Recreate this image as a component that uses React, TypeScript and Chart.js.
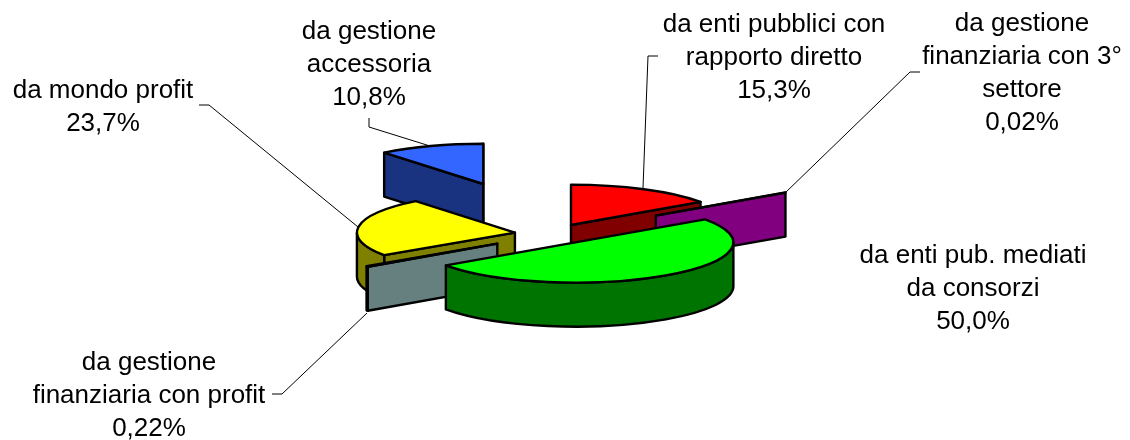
import React, { useEffect, useRef } from "react";
import { Chart, registerables } from "chart.js";

Chart.register(...registerables);

const categories = [
  "da enti pubblici con rapporto diretto",
  "da gestione finanziaria con 3° settore",
  "da enti pub. mediati da consorzi",
  "da gestione finanziaria con profit",
  "da mondo profit",
  "da gestione accessoria",
];
const shares = [15.3, 0.02, 50.0, 0.22, 23.7, 10.8];
const explosion = [40, 126, 40, 67, 38, 208];
const topColors = ["#ff0000", "#800080", "#00ff00", "#ccffff", "#ffff00", "#3366ff"];
const wallColors = ["#800000", "#800080", "#007400", "#668080", "#808000", "#1a3380"];
const paintOrder = [5, 0, 1, 4, 3, 2];

const labelLines = [
  ["da enti pubblici con", "rapporto diretto", "15,3%"],
  ["da gestione", "finanziaria con 3°", "settore", "0,02%"],
  ["da enti pub. mediati", "da consorzi", "50,0%"],
  ["da gestione", "finanziaria con profit", "0,22%"],
  ["da mondo profit", "23,7%"],
  ["da gestione", "accessoria", "10,8%"],
];
const labelAnchors = [
  [774, 32],
  [1022, 31],
  [973, 263],
  [149, 370],
  [103, 98],
  [369, 39],
];
const leaders = [
  [[658, 56], [648, 56], [643, 188]],
  [[920, 72], [910, 72], [785, 193]],
  [],
  [[272, 394], [282, 394], [367, 313]],
  [[199, 105], [209, 105], [358, 227]],
  [[369, 118], [369, 127], [430, 146]],
];

const TILT = 0.255;
const DEPTH = 44;
const RADIUS = 158;
const LINE_HEIGHT = 33;

const pie3d = {
  id: "pie3d",
  beforeDatasetsDraw(chart: any) {
    const ctx: CanvasRenderingContext2D = chart.ctx;
    const arcs = chart.getDatasetMeta(0).data;
    ctx.save();
    ctx.strokeStyle = "#000";
    ctx.lineWidth = 2.4;
    ctx.lineJoin = "round";
    const paint = (fill: string) => {
      ctx.fillStyle = fill;
      ctx.fill();
      ctx.stroke();
    };
    for (const i of paintOrder) {
      const arc = arcs[i];
      const a0: number = arc.startAngle;
      const a1: number = arc.endAngle;
      const mid = (a0 + a1) / 2;
      const cx = arc.x + Math.cos(mid) * explosion[i];
      const cy = arc.y + Math.sin(mid) * explosion[i] * TILT;
      const r: number = arc.outerRadius;
      const ry = r * TILT;
      const px = (a: number) => cx + Math.cos(a) * r;
      const py = (a: number) => cy + Math.sin(a) * ry;
      const radialWall = (a: number) => {
        ctx.beginPath();
        ctx.moveTo(cx, cy);
        ctx.lineTo(px(a), py(a));
        ctx.lineTo(px(a), py(a) + DEPTH);
        ctx.lineTo(cx, cy + DEPTH);
        ctx.closePath();
        paint(wallColors[i]);
      };
      if (Math.cos(a0) < 0) radialWall(a0);
      if (Math.cos(a1) > 0) radialWall(a1);
      const from = Math.max(a0, 0);
      const to = Math.min(a1, Math.PI);
      if (to > from) {
        ctx.beginPath();
        ctx.ellipse(cx, cy, r, ry, 0, from, to);
        ctx.ellipse(cx, cy + DEPTH, r, ry, 0, to, from, true);
        ctx.closePath();
        paint(wallColors[i]);
      }
      ctx.beginPath();
      ctx.moveTo(cx, cy);
      ctx.ellipse(cx, cy, r, ry, 0, a0, a1);
      ctx.closePath();
      paint(topColors[i]);
    }
    ctx.restore();
    return false;
  },
  afterDraw(chart: any) {
    const ctx: CanvasRenderingContext2D = chart.ctx;
    ctx.save();
    ctx.strokeStyle = "#000";
    ctx.lineWidth = 1;
    for (const line of leaders) {
      if (!line.length) continue;
      ctx.beginPath();
      line.forEach(([x, y], k) => (k ? ctx.lineTo(x, y) : ctx.moveTo(x, y)));
      ctx.stroke();
    }
    ctx.fillStyle = "#000";
    ctx.font = '26px "Liberation Sans", Arial, sans-serif';
    ctx.textAlign = "center";
    ctx.textBaseline = "alphabetic";
    labelLines.forEach((lines, i) => {
      const [x, y] = labelAnchors[i];
      lines.forEach((t, k) => ctx.fillText(t, x, y + k * LINE_HEIGHT));
    });
    ctx.restore();
  },
};

export default function App() {
  const ref = useRef<HTMLCanvasElement>(null);
  useEffect(() => {
    const chart = new Chart(ref.current!, {
      type: "pie",
      data: {
        labels: categories,
        datasets: [{ data: shares, backgroundColor: topColors, borderWidth: 0 }],
      },
      options: {
        animation: false,
        responsive: false,
        radius: RADIUS,
        layout: { padding: { right: 25, top: 28 } },
        plugins: { legend: { display: false }, tooltip: { enabled: false } },
      } as any,
      plugins: [pie3d],
    });
    return () => chart.destroy();
  }, []);
  return (
    <div style={{ position: "absolute", left: 0, top: 0, width: 1130, height: 440, background: "#fff" }}>
      <canvas ref={ref} width={1130} height={440} style={{ display: "block" }} />
    </div>
  );
}
